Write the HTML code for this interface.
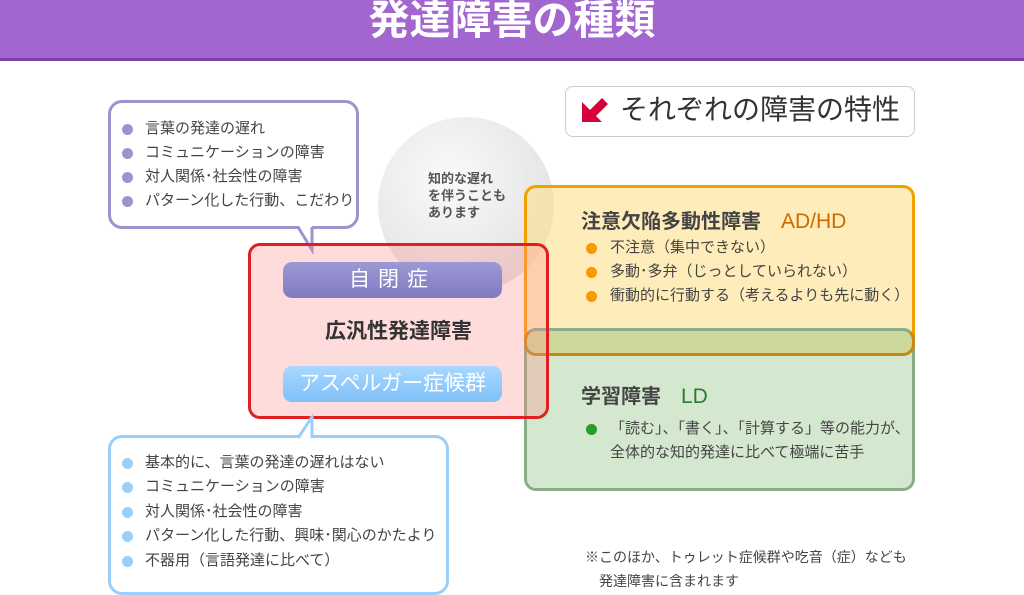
<!DOCTYPE html>
<html><head><meta charset="utf-8"><style>
body{margin:0;width:1024px;height:576px;overflow:hidden;background:#fff;position:relative;font-family:"Liberation Sans","Noto Sans CJK JP",sans-serif;color:#444}
div{position:absolute;box-sizing:border-box}
.hdr{left:0;top:0;width:1024px;background:#a366cf;border-bottom:3px solid #7a3fab;height:61px}
.hdr span{position:absolute;left:0;right:0;top:-14px;text-align:center;color:#fff;font-size:41px;font-weight:bold}
.li{font-size:15px;white-space:nowrap;color:#444}
.dot{width:11px;height:11px;border-radius:50%}
</style></head><body>
<div class="hdr"><span>発達障害の種類</span></div>

<div style="left:378px;top:117px;width:176px;height:176px;border-radius:50%;background:radial-gradient(circle at 40% 35%,#fafafa 0%,#ececec 45%,#dcdcdc 100%)"></div>
<div class="li" style="left:428px;top:170px;font-size:13px;line-height:17px;font-weight:bold;color:#555">知的な遅れ<br>を伴うことも<br>あります</div>

<div style="left:108px;top:100px;width:251px;height:129px;border:3px solid #9a96cc;border-radius:14px;background:#fff"></div>
<svg style="position:absolute;left:290px;top:224px" width="40" height="30"><polygon points="8,0 22,0 22,26" fill="#fff"/><polyline points="8,3 22,26 22,3" fill="none" stroke="#9a96cc" stroke-width="3"/></svg>
<div class="dot" style="left:122px;top:124px;background:#9a96cc"></div><div class="li" style="left:145px;top:117px">言葉の発達の遅れ</div>
<div class="dot" style="left:122px;top:148px;background:#9a96cc"></div><div class="li" style="left:145px;top:141px">コミュニケーションの障害</div>
<div class="dot" style="left:122px;top:172px;background:#9a96cc"></div><div class="li" style="left:145px;top:165px">対人関係･社会性の障害</div>
<div class="dot" style="left:122px;top:196px;background:#9a96cc"></div><div class="li" style="left:145px;top:189px">パターン化した行動、こだわり</div>

<div style="left:565px;top:86px;width:350px;height:51px;border:1px solid #ccc;border-radius:8px;background:#fff"></div>
<svg style="position:absolute;left:578px;top:92px" width="36" height="36"><polygon points="4,10 4,30 24,30 18,24 30,12 24,6 12,18" fill="#d6003a"/></svg>
<div style="left:620px;top:88px;font-size:28px;color:#333;white-space:nowrap">それぞれの障害の特性</div>

<div style="left:524px;top:185px;width:391px;height:171px;border:3px solid #f5a000;border-radius:12px;background:rgba(253,225,140,0.6)"></div>
<div style="left:524px;top:328px;width:391px;height:163px;border:3px solid #8aad88;border-radius:12px;background:rgba(170,210,160,0.5)"></div>
<div style="left:524px;top:328px;width:391px;height:28px;border:3px solid #c98a10;border-top-color:#8aad88;border-radius:12px;background:rgba(200,205,130,0.4)"></div>

<div style="left:581px;top:205px;font-size:20px;font-weight:bold;color:#444;white-space:nowrap">注意欠陥多動性障害　<span style="color:#cc6a00;font-weight:normal;font-size:21px">AD/HD</span></div>
<div class="dot" style="left:586px;top:243px;background:#f59a00"></div><div class="li" style="left:610px;top:236px">不注意（集中できない）</div>
<div class="dot" style="left:586px;top:267px;background:#f59a00"></div><div class="li" style="left:610px;top:260px">多動･多弁（じっとしていられない）</div>
<div class="dot" style="left:586px;top:291px;background:#f59a00"></div><div class="li" style="left:610px;top:284px">衝動的に行動する（考えるよりも先に動く）</div>

<div style="left:581px;top:380px;font-size:20px;font-weight:bold;color:#444;white-space:nowrap">学習障害　<span style="color:#2e7d2e;font-weight:normal;font-size:21px">LD</span></div>
<div class="dot" style="left:586px;top:424px;background:#2a9a2a"></div><div class="li" style="left:610px;top:417px">「読む」、「書く」、「計算する」等の能力が、</div>
<div class="li" style="left:610px;top:441px">全体的な知的発達に比べて極端に苦手</div>

<div style="left:248px;top:243px;width:301px;height:176px;border:3px solid #e02020;border-radius:12px;background:rgba(255,140,140,0.3)"></div>
<div style="left:283px;top:262px;width:219px;height:36px;border-radius:9px;background:linear-gradient(#9d99d4,#7f7bc0);color:#fff;font-size:21px;text-align:center;line-height:36px;letter-spacing:8px">自閉症</div>
<div style="left:248px;top:315px;width:301px;text-align:center;font-size:21px;font-weight:bold;color:#333">広汎性発達障害</div>
<div style="left:283px;top:366px;width:219px;height:36px;border-radius:9px;background:linear-gradient(#a9d8ff,#7fc0f8);color:#fff;font-size:21px;text-align:center;line-height:36px">アスペルガー症候群</div>

<div style="left:108px;top:435px;width:341px;height:160px;border:3px solid #9ccff8;border-radius:14px;background:#fff"></div>
<svg style="position:absolute;left:290px;top:414px" width="40" height="26"><polygon points="8,24 22,0 22,24" fill="#fff"/><polyline points="8,24 22,3 22,24" fill="none" stroke="#9ccff8" stroke-width="3"/></svg>
<div class="dot" style="left:122px;top:458px;background:#9ccff8"></div><div class="li" style="left:145px;top:451px">基本的に、言葉の発達の遅れはない</div>
<div class="dot" style="left:122px;top:482px;background:#9ccff8"></div><div class="li" style="left:145px;top:475px">コミュニケーションの障害</div>
<div class="dot" style="left:122px;top:507px;background:#9ccff8"></div><div class="li" style="left:145px;top:500px">対人関係･社会性の障害</div>
<div class="dot" style="left:122px;top:531px;background:#9ccff8"></div><div class="li" style="left:145px;top:524px">パターン化した行動、興味･関心のかたより</div>
<div class="dot" style="left:122px;top:556px;background:#9ccff8"></div><div class="li" style="left:145px;top:549px">不器用（言語発達に比べて）</div>

<div class="li" style="left:585px;top:545px;font-size:14px;line-height:24px">※このほか、トゥレット症候群や吃音（症）なども<br>　発達障害に含まれます</div>
</body></html>
